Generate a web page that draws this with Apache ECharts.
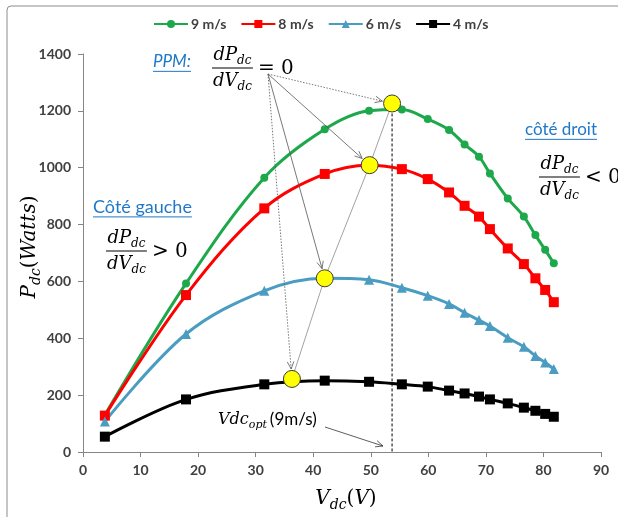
<!DOCTYPE html>
<html><head><meta charset="utf-8">
<script src="https://cdn.jsdelivr.net/npm/echarts@6/dist/echarts.min.js"></script>
<style>html,body{margin:0;padding:0;background:#fff}#c{width:618px;height:517px}</style>
</head><body><div id="c"></div>
<script>
// ---- data ----
const vdc = [3.8, 17.9, 31.5, 42.0, 49.7, 55.4, 59.9, 63.6, 66.3, 68.8, 70.7, 73.8, 76.6, 78.6, 80.3, 81.8];
const p9 = [130, 593, 965, 1135, 1200, 1205, 1171, 1133, 1082, 1039, 980, 892, 828, 763, 711, 664];
const p8 = [128, 552, 857, 978, 1009, 995, 960, 913, 866, 828, 784, 716, 661, 611, 570, 527];
const p6 = [107, 415, 567, 611, 606, 578, 550, 521, 490, 464, 443, 402, 370, 338, 315, 292];
const p4 = [54, 185, 238, 251, 247, 238, 230, 216, 206, 195, 185, 171, 156, 145, 134, 124];
const ppmV = [53.7, 49.8, 42.0, 36.3];
const ppmP = [1226, 1009, 611, 257];
const seriesNames = ['9 m/s', '8 m/s', '6 m/s', '4 m/s'];
const xMin = 0, xMax = 90, xInterval = 10;
const yMin = 0, yMax = 1400, yInterval = 200;

const colors = ['#1DA84B', '#FF0000', '#4A9CC0', '#000000'];
const symbols = ['circle', 'rect', 'triangle', 'rect'];
const symSizes = [8, 10, 10, 10];
const values = [p9, p8, p6, p4];

const chart = echarts.init(document.getElementById('c'), null, {renderer: 'canvas'});

const series = values.map((arr, k) => ({
  name: seriesNames[k], type: 'line', smooth: 0.35,
  data: vdc.map((v, i) => [v, arr[i]]),
  symbol: symbols[k], symbolSize: symSizes[k], showAllSymbol: true,
  lineStyle: {color: colors[k], width: 3},
  itemStyle: {color: colors[k]},
  z: 3, animation: false
}));
series.push({
  name: 'ppmLink', type: 'line', data: ppmV.map((v, i) => [v, ppmP[i]]),
  symbol: 'none', lineStyle: {color: '#8a8a8a', width: 0.8}, z: 4, animation: false
});
series.push({
  name: 'opt', type: 'line', data: [[ppmV[0], ppmP[0]], [ppmV[0], 0]],
  symbol: 'none', lineStyle: {color: '#000', width: 1, type: [3, 2]}, z: 2, animation: false
});
series.push({
  name: 'ppm', type: 'scatter', data: ppmV.map((v, i) => [v, ppmP[i]]),
  symbol: 'circle', symbolSize: 17,
  itemStyle: {color: '#FFFF00', borderColor: '#3a3a3a', borderWidth: 1, opacity: 1}, z: 6, animation: false
});

const axisLbl = {fontFamily: 'Lato', fontSize: 14, fontWeight: 'bold', color: '#404040', formatter: v => String(v)};

chart.setOption({
  animation: false,
  grid: {left: 83, right: 17, top: 54, bottom: 65, containLabel: false},
  legend: {
    data: seriesNames, left: 148, top: 12, itemWidth: 34, itemHeight: 10, itemGap: 14,
    textStyle: {fontFamily: 'Lato', fontSize: 14, fontWeight: 'bold', color: '#404040', padding: [0, 0, 0, -2]}
  },
  xAxis: {
    type: 'value', min: xMin, max: xMax, interval: xInterval,
    axisLine: {show: true, lineStyle: {color: '#868686'}},
    axisTick: {show: true, length: 5, lineStyle: {color: '#868686'}},
    axisLabel: Object.assign({margin: 11}, axisLbl),
    splitLine: {show: false}
  },
  yAxis: {
    type: 'value', min: yMin, max: yMax, interval: yInterval,
    axisLine: {show: true, lineStyle: {color: '#868686'}},
    axisTick: {show: true, length: 5, lineStyle: {color: '#868686'}},
    axisLabel: Object.assign({margin: 12}, axisLbl),
    splitLine: {show: false}
  },
  series: series
});

// ---- annotations ----
const ctx = document.createElement('canvas').getContext('2d');
function tw(text, font) { ctx.font = font; return ctx.measureText(text).width; }
const SERIF = '"DejaVu Serif"';
const SANS = 'Lato';
function txt(x, y, text, font, fill, align) {
  return {type: 'text', x: x, y: y, silent: true, z: 10,
    style: {text: text, font: font, fill: fill || '#000', textAlign: align || 'left', textVerticalAlign: 'middle', align: align || 'left', verticalAlign: 'middle'}};
}
function subEl(x, y, main, sub, size) {
  const f1 = 'italic ' + size + 'px ' + SERIF;
  const f2 = 'italic ' + Math.round(size * 0.68) + 'px ' + SERIF;
  const w1 = tw(main, f1), w2 = tw(sub, f2);
  return {els: [txt(x, y, main, f1), txt(x + w1, y + size * 0.32, sub, f2)], w: w1 + w2};
}
function subWidth(main, sub, size) {
  return tw(main, 'italic ' + size + 'px ' + SERIF) + tw(sub, 'italic ' + Math.round(size * 0.68) + 'px ' + SERIF);
}
function fraction(left, lineY, rel, size) {
  const wn = subWidth('dP', 'dc', size), wd = subWidth('dV', 'dc', size);
  const W = Math.max(wn, wd) + 2;
  const n = subEl(left + (W - wn) / 2, lineY - size * 0.72, 'dP', 'dc', size);
  const d = subEl(left + (W - wd) / 2, lineY + size * 0.72, 'dV', 'dc', size);
  const els = n.els.concat(d.els);
  els.push({type: 'line', silent: true, z: 10, shape: {x1: left, y1: lineY, x2: left + W, y2: lineY}, style: {stroke: '#000', lineWidth: 1}});
  els.push(txt(left + W + 5, lineY + 1, rel, (size + 2) + 'px ' + SERIF));
  return els;
}
function blueLabel(x, y, text, italic, size) {
  const font = (italic ? 'italic ' : '') + size + 'px ' + SANS;
  const w = tw(text, font);
  return [txt(x, y, text, font, '#1F78C8'),
    {type: 'line', silent: true, z: 10, shape: {x1: x, y1: y + size * 0.55, x2: x + w, y2: y + size * 0.55}, style: {stroke: '#1F78C8', lineWidth: 1}}];
}
function arrow(x1, y1, x2, y2, dash, color) {
  const a = Math.atan2(y2 - y1, x2 - x1), L = 8, s = 0.42;
  const st = {stroke: color || '#555', lineWidth: 0.8};
  if (dash) st.lineDash = [1.5, 1.5];
  return [
    {type: 'line', silent: true, z: 7, shape: {x1: x1, y1: y1, x2: x2, y2: y2}, style: st},
    {type: 'polyline', silent: true, z: 7, shape: {points: [
      [x2 - L * Math.cos(a - s), y2 - L * Math.sin(a - s)], [x2, y2],
      [x2 - L * Math.cos(a + s), y2 - L * Math.sin(a + s)]]}, style: {stroke: color || '#555', lineWidth: 0.8}}
  ];
}

let g = [];
g.push({type: 'rect', silent: true, z: 0, shape: {x: 7, y: 6, width: 620, height: 520, r: 4}, style: {fill: 'none', stroke: '#8c8c8c', lineWidth: 1}});
g = g.concat(blueLabel(153, 62, 'PPM:', true, 17));
g = g.concat(fraction(212, 68, '= 0', 18));
g = g.concat(blueLabel(93, 207, 'Côté gauche', false, 18));
g = g.concat(fraction(106, 251, '> 0', 18));
g = g.concat(blueLabel(525, 130, 'côté droit', false, 17));
g = g.concat(fraction(539, 177, '< 0', 18));
(function () {
  const s = subEl(218, 420, 'Vdc', 'opt', 16);
  g = g.concat(s.els);
  g.push(txt(218 + s.w + 3, 420, '(9m/s)', '17px ' + SANS, '#000'));
  g = g.concat(arrow(325, 427, 383, 446, false, '#333'));
})();
(function () {
  const size = 20;
  const fI = 'italic ' + size + 'px ' + SERIF, fS = 'italic 14px ' + SERIF, fU = size + 'px ' + SERIF;
  const parts = [['P', fI, 0], ['dc', fS, 6], ['(', fU, 0], ['Watts', fI, 0], [')', fU, 0]];
  let W = 0; parts.forEach(p => W += tw(p[0], p[1]));
  let x = -W / 2; const ch = [];
  parts.forEach(p => { ch.push(txt(x, p[2], p[0], p[1])); x += tw(p[0], p[1]); });
  g.push({type: 'group', x: 30, y: 247, rotation: Math.PI / 2, children: ch});
  const parts2 = [['V', fI, 0], ['dc', fS, 6], ['(', fU, 0], ['V', fI, 0], [')', fU, 0]];
  let W2 = 0; parts2.forEach(p => W2 += tw(p[0], p[1]));
  let x2 = 346 - W2 / 2;
  parts2.forEach(p => { g.push(txt(x2, 499 + p[2], p[0], p[1])); x2 += tw(p[0], p[1]); });
})();
const startPt = [268, 74];
const dashes = [true, false, false, true];
ppmV.forEach((v, i) => {
  const p = chart.convertToPixel({gridIndex: 0}, [v, ppmP[i]]);
  const dx = p[0] - startPt[0], dy = p[1] - startPt[1], d = Math.hypot(dx, dy);
  const r = 10;
  g = g.concat(arrow(startPt[0], startPt[1], p[0] - dx / d * r, p[1] - dy / d * r, dashes[i], '#555'));
});
chart.setOption({graphic: {elements: g}});
</script>
</body></html>
